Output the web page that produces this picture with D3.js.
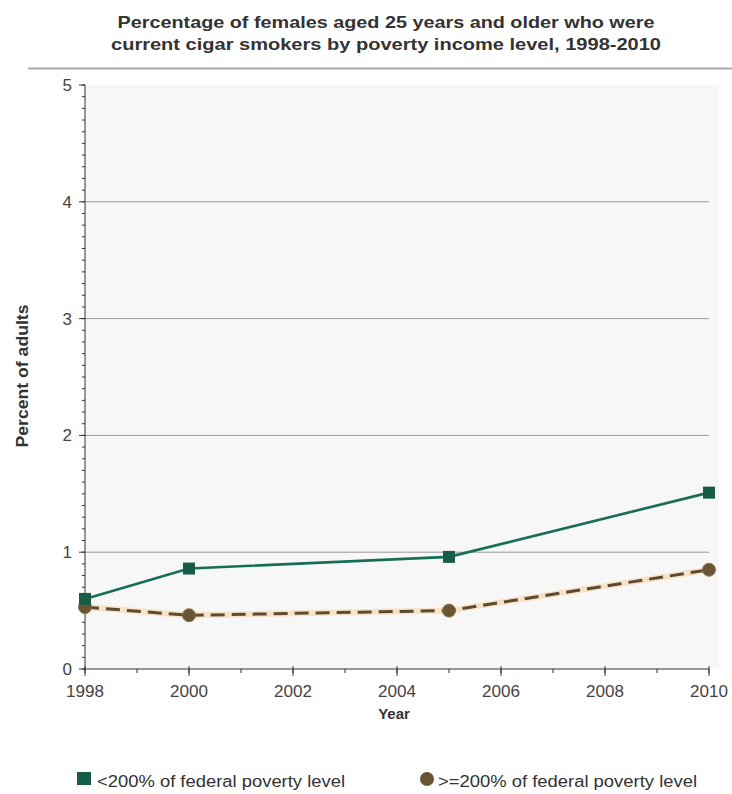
<!DOCTYPE html>
<html><head><meta charset="utf-8">
<script src="https://cdn.jsdelivr.net/npm/d3@7"></script>
<style>body{margin:0;background:#fff;font-family:"Liberation Sans",Arial,sans-serif;}</style>
</head><body><svg id="c" width="732" height="794"></svg>
<script>
const years = [1998, 2000, 2005, 2010];
const below200 = [0.60, 0.86, 0.96, 1.51];
const above200 = [0.53, 0.46, 0.50, 0.85];
const seriesNames = ["<200% of federal poverty level", ">=200% of federal poverty level"];
const yTicks = [0, 1, 2, 3, 4, 5];
const xTicks = [1998, 2000, 2002, 2004, 2006, 2008, 2010];
const titleLines = ["Percentage of females aged 25 years and older who were",
                    "current cigar smokers by poverty income level, 1998-2010"];

const svg = d3.select("#c");
const m = {l: 85, r: 23, t: 85, b: 125};
const W = 732, H = 794;
const x = d3.scaleLinear().domain([1998, 2010]).range([m.l, W - m.r]);
const y = d3.scaleLinear().domain([0, 5]).range([H - m.b, m.t]);

// title
const tLens = [537, 550];
titleLines.forEach((t, i) => {
  svg.append("text").attr("x", 386).attr("y", 28 + i * 22).attr("text-anchor", "middle")
    .attr("font-size", 17).attr("font-weight", "bold").attr("fill", "#333")
    .attr("textLength", tLens[i]).attr("lengthAdjust", "spacingAndGlyphs").text(t);
});
svg.append("line").attr("x1", 28).attr("x2", 732).attr("y1", 68.5).attr("y2", 68.5)
  .attr("stroke", "#aaa").attr("stroke-width", 2);

// plot bg
svg.append("rect").attr("x", m.l).attr("y", m.t).attr("width", W - m.r - m.l + 10)
  .attr("height", y(0) - m.t).attr("fill", "#f7f7f7");

// gridlines
svg.append("g").selectAll("line").data(yTicks.filter(d => d > 0 && d < 5)).join("line")
  .attr("x1", m.l).attr("x2", x(2010)).attr("y1", d => y(d)).attr("y2", d => y(d))
  .attr("stroke", "#999").attr("stroke-width", 1);

// y axis
const yMinor = d3.range(0, 5.0001, 0.1);
const ya = svg.append("g").attr("transform", `translate(${m.l},0)`);
ya.append("line").attr("y1", y(0)).attr("y2", y(5)).attr("stroke", "#333");
ya.selectAll(".mn").data(yMinor).join("line").attr("class", "mn")
  .attr("x1", -3).attr("x2", 0).attr("y1", d => y(d)).attr("y2", d => y(d)).attr("stroke", "#333");
ya.selectAll(".mj").data(yTicks).join("line").attr("class", "mj")
  .attr("x1", -6).attr("x2", 0).attr("y1", d => y(d)).attr("y2", d => y(d)).attr("stroke", "#333");
ya.selectAll("text").data(yTicks).join("text")
  .attr("x", -13).attr("y", d => y(d) + 6).attr("text-anchor", "end")
  .attr("font-size", 17).attr("fill", "#444").text(d => d);

// x axis
const xa = svg.append("g").attr("transform", `translate(0,${y(0)})`);
xa.append("line").attr("x1", x(1998)).attr("x2", x(2010)).attr("stroke", "#333");
xa.selectAll(".mn").data(d3.range(1998, 2011)).join("line").attr("class", "mn")
  .attr("x1", d => x(d)).attr("x2", d => x(d)).attr("y1", 0).attr("y2", 4).attr("stroke", "#333");
xa.selectAll(".mj").data(xTicks).join("line").attr("class", "mj")
  .attr("x1", d => x(d)).attr("x2", d => x(d)).attr("y1", -3).attr("y2", 7).attr("stroke", "#333");
xa.selectAll("text").data(xTicks).join("text")
  .attr("x", d => x(d)).attr("y", 28).attr("text-anchor", "middle")
  .attr("font-size", 17).attr("textLength", 38).attr("lengthAdjust", "spacingAndGlyphs")
  .attr("fill", "#444").text(d => d);

// axis titles
svg.append("text").attr("x", 394).attr("y", 719).attr("text-anchor", "middle")
  .attr("font-size", 15).attr("font-weight", "bold").attr("fill", "#333").text("Year");
svg.append("text").attr("transform", "translate(28,376) rotate(-90)").attr("text-anchor", "middle")
  .attr("font-size", 16).attr("font-weight", "bold").attr("fill", "#333")
  .attr("textLength", 143).attr("lengthAdjust", "spacingAndGlyphs").text("Percent of adults");

const line = d3.line().x(d => x(d[0])).y(d => y(d[1]));
const d1 = years.map((yr, i) => [yr, below200[i]]);
const d2 = years.map((yr, i) => [yr, above200[i]]);

// series 2: dashed brown with orange halo
svg.append("path").datum(d2).attr("d", line).attr("fill", "none")
  .attr("stroke", "#f6d3a4").attr("stroke-width", 6).attr("opacity", 0.6);
svg.append("path").datum(d2).attr("d", line).attr("fill", "none")
  .attr("stroke", "#5e4a32").attr("stroke-width", 3).attr("stroke-dasharray", "14,7");
svg.selectAll(".c2").data(d2).join("circle").attr("class", "c2")
  .attr("cx", d => x(d[0])).attr("cy", d => y(d[1])).attr("r", 6.5)
  .attr("fill", "#6a5535").attr("stroke", "#8a7048").attr("stroke-width", 1);

// series 1: green solid
svg.append("path").datum(d1).attr("d", line).attr("fill", "none")
  .attr("stroke", "#166e55").attr("stroke-width", 2.6);
svg.selectAll(".s1").data(d1).join("rect").attr("class", "s1")
  .attr("x", d => x(d[0]) - 6).attr("y", d => y(d[1]) - 6).attr("width", 12).attr("height", 12)
  .attr("fill", "#175c48");

// legend
const lg = svg.append("g");
lg.append("rect").attr("x", 77).attr("y", 772).attr("width", 14).attr("height", 13).attr("fill", "#175c48");
lg.append("text").attr("x", 97).attr("y", 787).attr("font-size", 16).attr("fill", "#333")
  .attr("textLength", 248).attr("lengthAdjust", "spacingAndGlyphs").text(seriesNames[0]);
lg.append("circle").attr("cx", 427).attr("cy", 779).attr("r", 7).attr("fill", "#6a5535");
lg.append("text").attr("x", 438).attr("y", 787).attr("font-size", 16).attr("fill", "#333")
  .attr("textLength", 259).attr("lengthAdjust", "spacingAndGlyphs").text(seriesNames[1]);
</script></body></html>
